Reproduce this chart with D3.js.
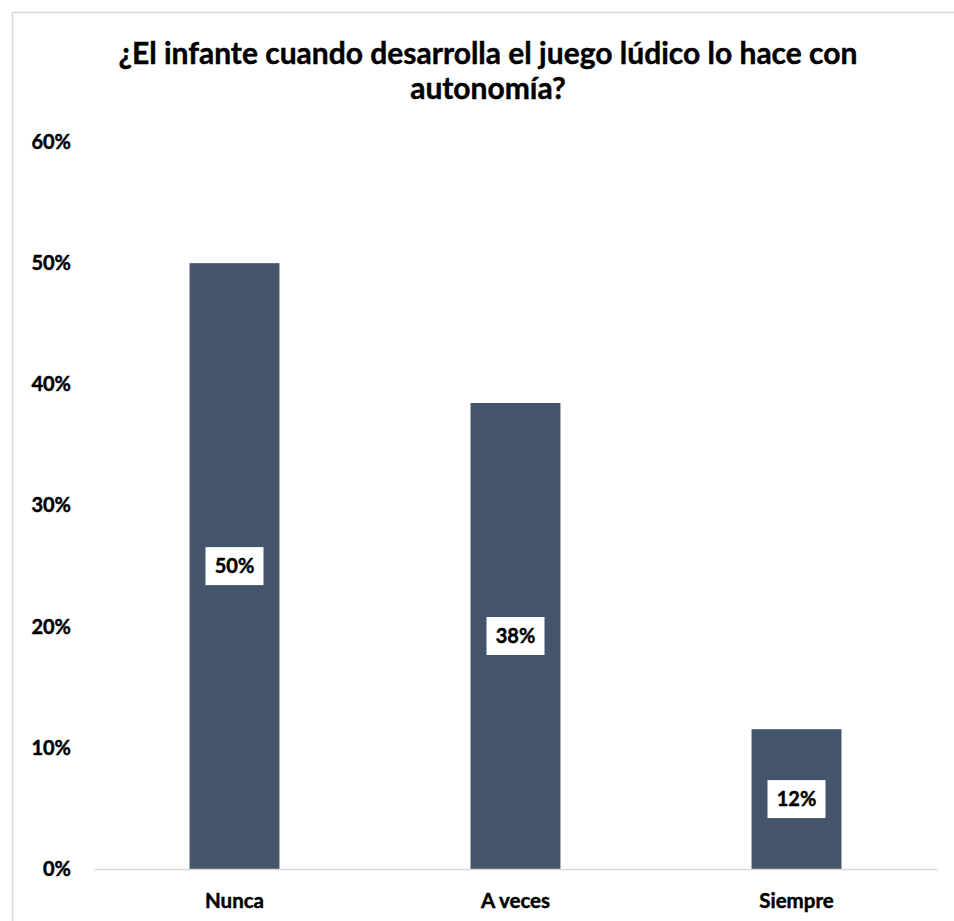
<!DOCTYPE html>
<html>
<head>
<meta charset="utf-8">
<script src="https://cdn.jsdelivr.net/npm/d3@7"></script>
<style>
  html, body { margin: 0; padding: 0; background: #fff; }
  svg { display: block; font-family: Lato, "Open Sans", sans-serif; }
  .heavy { paint-order: stroke; stroke: #000; stroke-width: 0.45px; }
</style>
</head>
<body>
<svg id="chart" width="954" height="921"></svg>
<script>
// Survey answers: share of respondents per frequency
const categories = ["Nunca", "A veces", "Siempre"];
const shares = [0.5, 0.3846, 0.1154];
const yTicks = [0, 0.1, 0.2, 0.3, 0.4, 0.5, 0.6];
const titleLines = ["¿El infante cuando desarrolla el juego lúdico lo hace con", "autonomía?"];

const svg = d3.select("#chart");
const W = 954, H = 921;
const plot = { left: 94, right: 937, top: 142, bottom: 869 };
const barColor = "#44546A";
const gridGray = "#D9D9D9";
const pct = d3.format(".0%");

svg.append("rect").attr("width", W).attr("height", H).attr("fill", "#fff");

// chart frame
svg.append("rect")
  .attr("x", 12.5).attr("y", 12.5)
  .attr("width", W + 20).attr("height", H + 20)
  .attr("fill", "none").attr("stroke", gridGray).attr("stroke-width", 1.5);

// title, fitted to its line width
const title = svg.append("g").attr("font-weight", 700).attr("fill", "#000").attr("class", "heavy");
const t1 = title.append("text")
  .attr("x", 488).attr("y", 64).attr("text-anchor", "middle")
  .attr("font-size", 30).text(titleLines[0]);
const fit = 739 / t1.node().getComputedTextLength();
const titleSize = 30 * fit;
t1.attr("font-size", titleSize);
title.append("text")
  .attr("x", 488).attr("y", 99).attr("text-anchor", "middle")
  .attr("font-size", titleSize).text(titleLines[1]);

const x = d3.scaleBand()
  .domain(categories)
  .range([plot.left, plot.right])
  .paddingInner(0.68)
  .paddingOuter(0.34);

const y = d3.scaleLinear().domain([0, 0.6]).range([plot.bottom, plot.top]);

// y axis labels only
const yAxis = svg.append("g")
  .attr("transform", `translate(${plot.left},0)`)
  .call(d3.axisLeft(y).tickValues(yTicks).tickFormat(pct).tickSize(0).tickPadding(23));
yAxis.select(".domain").remove();
yAxis.selectAll("text")
  .attr("class", "heavy")
  .attr("font-family", "Lato, sans-serif")
  .attr("font-size", 20).attr("font-weight", 700).attr("fill", "#000");

// bars
svg.append("g").selectAll("rect")
  .data(categories)
  .join("rect")
  .attr("x", d => x(d))
  .attr("y", (d, i) => y(shares[i]))
  .attr("width", x.bandwidth())
  .attr("height", (d, i) => y(0) - y(shares[i]))
  .attr("fill", barColor);

// x axis
const xAxis = svg.append("g")
  .attr("transform", `translate(0,${plot.bottom})`)
  .call(d3.axisBottom(x).tickSize(0).tickSizeOuter(0).tickPadding(24));
xAxis.select(".domain").attr("stroke", gridGray).attr("stroke-width", 1.5);
xAxis.selectAll("text")
  .attr("class", "heavy")
  .attr("font-family", "Lato, sans-serif")
  .attr("font-size", 20.5).attr("font-weight", 700).attr("fill", "#000");

// value labels in white boxes at bar centres
const labels = svg.append("g").selectAll("g")
  .data(categories)
  .join("g")
  .attr("transform", (d, i) => `translate(${x(d) + x.bandwidth() / 2},${(y(0) + y(shares[i])) / 2})`);
labels.append("rect")
  .attr("x", -29).attr("y", -19).attr("width", 58).attr("height", 38)
  .attr("fill", "#fff");
labels.append("text")
  .attr("class", "heavy")
  .attr("text-anchor", "middle").attr("dy", "0.36em")
  .attr("font-size", 20).attr("font-weight", 700).attr("fill", "#000")
  .text((d, i) => pct(shares[i]));
</script>
</body>
</html>
